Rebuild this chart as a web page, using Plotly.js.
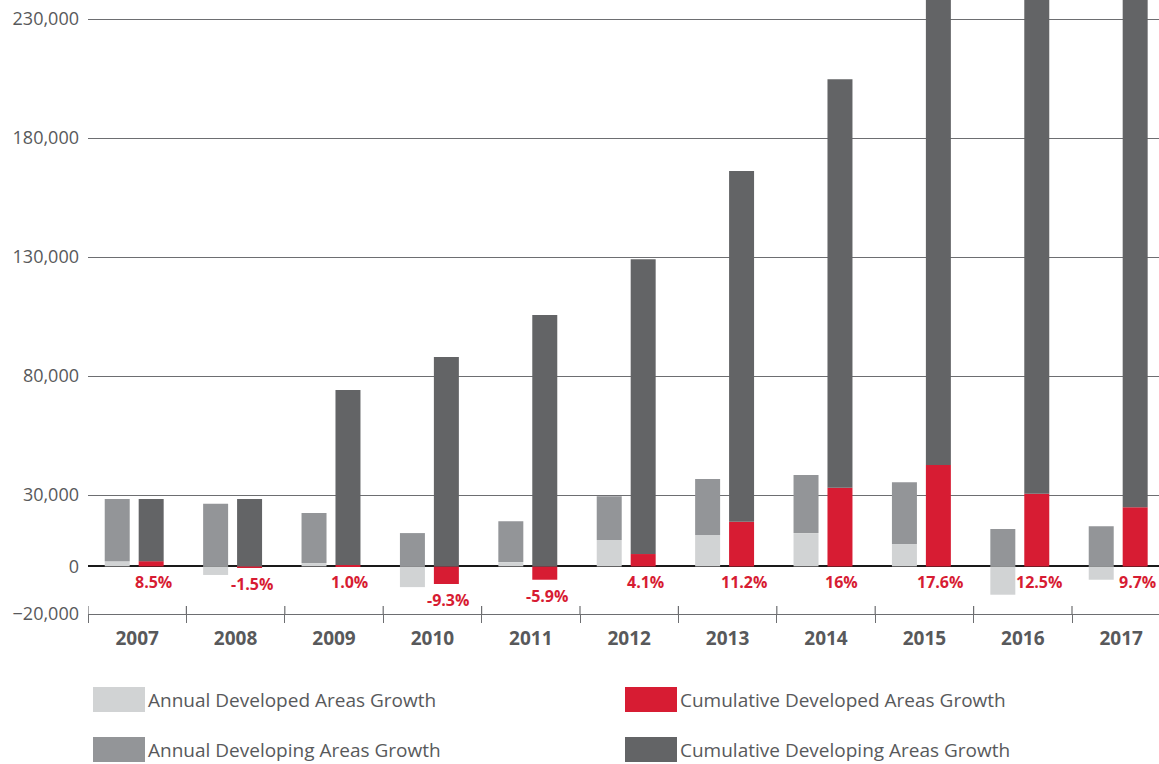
<!DOCTYPE html>
<html>
<head>
<meta charset="utf-8">
<script src="https://cdn.plot.ly/plotly-3.0.1.min.js"></script>
<style>
  html, body { margin: 0; padding: 0; background: #fff; }
  #chart { width: 1159px; height: 764px; }
</style>
</head>
<body>
<div id="chart"></div>
<script>
// values
const years = ['2007', '2008', '2009', '2010', '2011', '2012', '2013', '2014', '2015', '2016', '2017'];
const annualDeveloped = [2200, -3600, 1400, -8700, 1800, 11100, 13200, 14000, 9400, -11900, -5600];
const annualDeveloping = [26100, 26300, 21000, 14000, 17200, 18400, 23500, 24400, 26000, 15700, 16900];
const cumulativeDeveloped = [2200, -500, 600, -7400, -5600, 5200, 18800, 33100, 42600, 30500, 24900];
const cumulativeDeveloping = [26100, 28300, 73500, 88000, 105600, 123900, 147300, 171600, 207000, 249000, 275000];
const growthLabels = ['8.5%', '-1.5%', '1.0%', '-9.3%', '-5.9%', '4.1%', '11.2%', '16%', '17.6%', '12.5%', '9.7%'];
const yTicks = [-20000, 0, 30000, 80000, 130000, 180000, 230000];

const LIGHT_GREY = '#d1d3d4';
const MID_GREY = '#939598';
const DARK_GREY = '#636466';
const RED = '#d71c33';
const TEXT_GREY = '#58595b';
const AXIS_GREY = '#6d6e71';
const FONT = '"Open Sans", "Noto Sans", sans-serif';

const ANNUAL_SHIFT = -0.203;
const CUMULATIVE_SHIFT = 0.142;
const BAR_WIDTH = 0.254;

const idx = years.map((_, i) => i);
const annualX = idx.map(i => i + ANNUAL_SHIFT);
const cumulativeX = idx.map(i => i + CUMULATIVE_SHIFT);

function barTrace(name, x, y, color) {
    return {
        type: 'bar',
        name: name,
        x: x,
        y: y,
        width: BAR_WIDTH,
        marker: { color: color, line: { width: 0 } },
        hoverinfo: 'name+y',
        showlegend: false,
    };
}

const traces = [
    barTrace('Annual Developed Areas Growth', annualX, annualDeveloped, LIGHT_GREY),
    barTrace('Annual Developing Areas Growth', annualX, annualDeveloping, MID_GREY),
    barTrace('Cumulative Developed Areas Growth', cumulativeX, cumulativeDeveloped, RED),
    barTrace('Cumulative Developing Areas Growth', cumulativeX, cumulativeDeveloping, DARK_GREY),
];

// red growth labels under the cumulative bars
const annotations = growthLabels.map((txt, i) => ({
    x: cumulativeX[i],
    y: Math.min(0, cumulativeDeveloped[i]),
    xref: 'x',
    yref: 'y',
    text: '<b>' + txt + '</b>',
    showarrow: false,
    xanchor: 'center',
    yanchor: 'top',
    xshift: 2,
    yshift: -3,
    font: { family: FONT, size: 16, color: RED },
}));

// hand-made legend: two columns, two rows, big swatches
const legendItems = [
    { name: 'Annual Developed Areas Growth', color: LIGHT_GREY, col: 0, row: 0 },
    { name: 'Annual Developing Areas Growth', color: MID_GREY, col: 0, row: 1 },
    { name: 'Cumulative Developed Areas Growth', color: RED, col: 1, row: 0 },
    { name: 'Cumulative Developing Areas Growth', color: DARK_GREY, col: 1, row: 1 },
];
const PLOT_LEFT = 88, PLOT_W = 1071, PLOT_BOTTOM = 614;
const px2x = p => (p - PLOT_LEFT) / PLOT_W;
const px2y = p => (PLOT_BOTTOM - p) / PLOT_BOTTOM;
const shapes = [];
legendItems.forEach(item => {
    const left = item.col === 0 ? 93 : 625;
    const top = item.row === 0 ? 687 : 737;
    shapes.push({
        type: 'rect', xref: 'paper', yref: 'paper',
        x0: px2x(left), x1: px2x(left + 52),
        y0: px2y(top), y1: px2y(top + 25),
        fillcolor: item.color, line: { width: 0 },
    });
    annotations.push({
        xref: 'paper', yref: 'paper',
        x: px2x(left + 53), y: px2y(top + 12.5),
        xanchor: 'left', yanchor: 'middle',
        text: item.name, showarrow: false,
        font: { family: FONT, size: 19, color: TEXT_GREY },
    });
});

// upper half of the category separator ticks on the bottom axis
idx.forEach(i => {
    shapes.push({
        type: 'line', xref: 'x', yref: 'paper',
        x0: i - 0.5, x1: i - 0.5,
        y0: 0, y1: 8 / PLOT_BOTTOM,
        line: { color: AXIS_GREY, width: 1.2 },
    });
});

const layout = {
    width: 1159,
    height: 764,
    margin: { l: PLOT_LEFT, r: 0, t: 0, b: 764 - PLOT_BOTTOM },
    paper_bgcolor: '#fff',
    plot_bgcolor: '#fff',
    barmode: 'relative',
    showlegend: false,
    font: { family: FONT, color: TEXT_GREY },
    xaxis: {
        range: [-0.5, -0.5 + PLOT_W / 98.4],
        tickvals: idx,
        ticktext: years,
        ticks: '',
        ticklabelstandoff: 7,
        tickfont: { family: FONT, size: 19, color: TEXT_GREY, weight: 'bold' },
        showgrid: false,
        zeroline: false,
        showline: true,
        linecolor: AXIS_GREY,
        linewidth: 1.2,
        minor: {
            tickvals: idx.map(i => i - 0.5),
            ticks: 'outside',
            ticklen: 8,
            tickcolor: AXIS_GREY,
            tickwidth: 1.2,
            showgrid: false,
        },
        fixedrange: true,
    },
    yaxis: {
        range: [-20000, 238000],
        tickvals: yTicks,
        tickformat: ',',
        ticks: '',
        ticklabelstandoff: 8,
        tickfont: { family: FONT, size: 18, color: TEXT_GREY },
        showgrid: true,
        gridcolor: AXIS_GREY,
        gridwidth: 1,
        zeroline: true,
        zerolinecolor: '#1a1a1a',
        zerolinewidth: 1.6,
        showline: false,
        fixedrange: true,
    },
    shapes: shapes,
    annotations: annotations,
};

Plotly.newPlot('chart', traces, layout, { displayModeBar: false, responsive: false });
</script>
</body>
</html>
